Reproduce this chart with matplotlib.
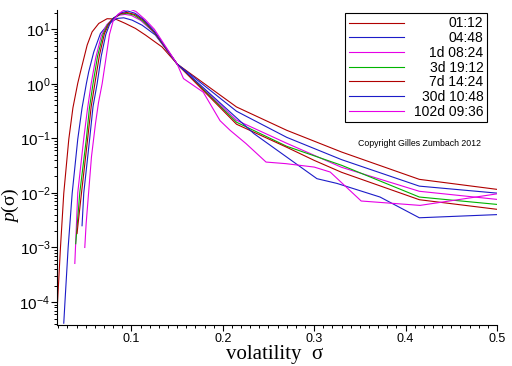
import matplotlib
matplotlib.use('Agg')
import numpy as np
import matplotlib.pyplot as plt
from matplotlib.ticker import MultipleLocator, LogLocator, NullFormatter

plt.rcParams['font.family'] = ['Liberation Sans', 'DejaVu Sans']
plt.rcParams['mathtext.fontset'] = 'custom'
plt.rcParams['mathtext.rm'] = 'Liberation Serif'
plt.rcParams['mathtext.it'] = 'Liberation Serif:italic'

labels = ['01:12', '04:48', '1d 08:24', '3d 19:12', '7d 14:24', '30d 10:48', '102d 09:36']
colors = ['#b00000', '#1c1cc8', '#e600e6', '#00b400', '#b00000', '#1c1cc8', '#e600e6']

# volatility sigma and density p(sigma), one pair per time horizon
sigma_0112 = [0.019, 0.0224, 0.026, 0.0315, 0.036, 0.0413, 0.0443, 0.0516, 0.057, 0.0643, 0.0734,
              0.0825, 0.0934, 0.1044, 0.1153, 0.1336, 0.15, 0.215, 0.27, 0.33, 0.415, 0.5]
p_0112 = [8.7e-5, 1.0e-3, 9.8e-3, 0.096, 0.36, 1.02, 1.65, 5.1, 8.9, 12.7, 15.5,
          15.3, 12.7, 10.3, 7.8, 4.7, 2.3, 0.375, 0.14, 0.056, 0.0177, 0.0116]

sigma_0448 = [0.026, 0.0273, 0.0308, 0.0352, 0.0413, 0.046, 0.0508, 0.0533, 0.0588, 0.0661, 0.0752,
              0.0844, 0.0916, 0.1008, 0.1117, 0.1262, 0.15, 0.215, 0.27, 0.33, 0.415, 0.5]
p_0448 = [4.1e-5, 1.0e-4, 1.0e-3, 9.8e-3, 0.096, 0.36, 1.02, 1.65, 3.8, 8.3, 12.7,
          15.7, 16.1, 14.6, 11.8, 7.8, 2.3, 0.313, 0.104, 0.0406, 0.0133, 0.0099]

sigma_1d = [0.0381, 0.0413, 0.0479, 0.052, 0.056, 0.061, 0.067, 0.073, 0.080, 0.087, 0.093,
            0.1, 0.11, 0.125, 0.15, 0.215, 0.27, 0.33, 0.415, 0.5]
p_1d = [5.1e-4, 0.01, 0.1, 0.35, 1.0, 3.0, 7.5, 12.0, 15.7, 18.0, 18.6,
        17.8, 14.5, 8.6, 2.3, 0.214, 0.081, 0.0294, 0.0107, 0.0076]

sigma_3d = [0.0391, 0.0435, 0.0508, 0.054, 0.058, 0.063, 0.069, 0.074, 0.080, 0.088, 0.095,
            0.103, 0.112, 0.125, 0.15, 0.215, 0.27, 0.33, 0.415, 0.5]
p_3d = [1.17e-3, 0.01, 0.1, 0.35, 1.0, 3.2, 8.0, 12.0, 15.7, 18.8, 19.5,
        18.0, 14.3, 8.7, 2.3, 0.197, 0.0713, 0.032, 0.0084, 0.00615]

sigma_7d = [0.0405, 0.0454, 0.0522, 0.056, 0.060, 0.065, 0.0705, 0.0755, 0.080, 0.088, 0.095,
            0.104, 0.113, 0.125, 0.15, 0.215, 0.27, 0.30, 0.33, 0.415, 0.5]
p_7d = [1.8e-3, 0.01, 0.1, 0.38, 1.0, 3.3, 8.3, 12.5, 15.7, 19.2, 20.2,
        18.5, 14.6, 8.9, 2.3, 0.181, 0.0684, 0.0394, 0.0238, 0.0075, 0.0050]

sigma_30d = [0.046, 0.0479, 0.0544, 0.058, 0.0625, 0.067, 0.072, 0.076, 0.080, 0.088, 0.096,
             0.104, 0.113, 0.125, 0.15, 0.234, 0.303, 0.325, 0.372, 0.415, 0.5]
p_30d = [2.5e-3, 0.01, 0.1, 0.38, 1.0, 3.2, 8.0, 12.0, 15.5, 19.8, 21.4,
         19.5, 15.2, 9.2, 2.3, 0.122, 0.0182, 0.0149, 0.0084, 0.0035, 0.0040]

sigma_102d = [0.049, 0.0505, 0.0534, 0.0563, 0.0607, 0.064, 0.068, 0.072, 0.076, 0.080, 0.085,
              0.091, 0.098, 0.105, 0.115, 0.125, 0.15, 0.157, 0.1786, 0.197, 0.208, 0.2254,
              0.2473, 0.2691, 0.30, 0.3175, 0.3514, 0.4158, 0.5]
p_102d = [1.0e-3, 2.75e-3, 0.0112, 0.0457, 0.186, 0.45, 1.0, 2.8, 8.0, 14.0, 18.5,
          21.8, 23.3, 21.0, 15.0, 10.0, 2.3, 1.24, 0.70, 0.21, 0.14, 0.080,
          0.0367, 0.0343, 0.0297, 0.0241, 0.0071, 0.0059, 0.0096]

sigmas = [sigma_0112, sigma_0448, sigma_1d, sigma_3d, sigma_7d, sigma_30d, sigma_102d]
densities = [p_0112, p_0448, p_1d, p_3d, p_7d, p_30d, p_102d]

fig = plt.figure(figsize=(5.12, 3.66), dpi=100)
ax = fig.add_axes([57 / 512, 41 / 366, 440 / 512, 315 / 366])

for s, p, c, lab in zip(sigmas, densities, colors, labels):
    ax.plot(s, p, color=c, lw=0.8, label=lab)

ax.set_yscale('log')
ax.set_xlim(0.0186, 0.5)
ax.set_ylim(10 ** -4.42, 10 ** 1.35)

ax.spines['top'].set_visible(False)
ax.spines['right'].set_visible(False)
for sp in ('left', 'bottom'):
    ax.spines[sp].set_linewidth(0.8)

ax.xaxis.set_major_locator(MultipleLocator(0.1))
ax.xaxis.set_minor_locator(MultipleLocator(0.01))
ax.yaxis.set_major_locator(LogLocator(base=10, numticks=20))
ax.yaxis.set_minor_locator(LogLocator(base=10, subs=np.arange(2, 10), numticks=20))
ax.yaxis.set_minor_formatter(NullFormatter())
ax.tick_params(which='major', direction='out', length=4.3, width=0.8)
ax.tick_params(which='minor', direction='out', length=2.2, width=0.7)
ax.tick_params(axis='x', labelsize=9, pad=1.5)
ax.tick_params(axis='y', labelsize=11, pad=0.5)

ax.set_xlabel('volatility  σ', family='Liberation Serif', fontsize=15)
ax.xaxis.set_label_coords(0.495, -0.062)
ax.set_ylabel('$p$(σ)', family='Liberation Serif', fontsize=14)
ax.yaxis.set_label_coords(-0.082, 0.38)

leg = ax.legend(loc='upper right', bbox_to_anchor=(487 / 512, 1 - 13 / 366),
                bbox_transform=fig.transFigure, fancybox=False, edgecolor='black',
                framealpha=1, fontsize=10, handlelength=4.0, handletextpad=0.7,
                labelspacing=0.05, borderpad=0.25, borderaxespad=0)
leg.get_frame().set_linewidth(0.8)

# right-align the legend labels
fig.canvas.draw()
renderer = fig.canvas.get_renderer()
widths = [t.get_window_extent(renderer).width for t in leg.get_texts()]
for t, w in zip(leg.get_texts(), widths):
    t.set_position((max(widths) - w, 0))

fig.text(420 / 512, 1 - 143 / 366, 'Copyright Gilles Zumbach 2012',
         ha='center', va='center', fontsize=6.3)

fig.savefig('out.png', dpi=100)
